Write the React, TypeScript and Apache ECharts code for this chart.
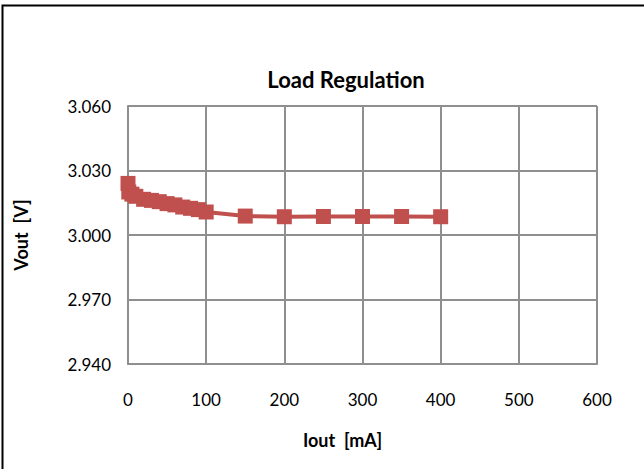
import React, { useEffect, useRef } from "react";
import * as echarts from "echarts";

const iout = [0, 1, 5, 10, 20, 30, 40, 50, 60, 70, 80, 90, 100, 150, 200, 250, 300, 350, 400];
const vout = [3.024, 3.02, 3.019, 3.018, 3.0166, 3.0161, 3.0155, 3.0146, 3.014, 3.013, 3.0124, 3.0118, 3.0107, 3.0088, 3.0085, 3.0086, 3.0086, 3.0086, 3.0085];
const yTicks = [2.94, 2.97, 3.0, 3.03, 3.06];
const xTicks = [0, 100, 200, 300, 400, 500, 600];

const FONT = "Lato, 'Open Sans', sans-serif";

export default function App() {
  const ref = useRef<HTMLDivElement>(null);
  useEffect(() => {
    document.body.style.margin = "0";
    if (!ref.current) return;
    const chart = echarts.init(ref.current, null, { renderer: "svg" });
    const gridColor = "#8f8f8f";
    chart.setOption({
      animation: false,
      backgroundColor: "#ffffff",
      title: {
        text: "Load Regulation",
        left: 341,
        top: 63,
        textAlign: "center",
        textStyle: { fontFamily: FONT, fontSize: 22, fontWeight: "bold", color: "#000" },
      },
      graphic: [
        {
          type: "polyline",
          shape: { points: [[2.5, 469], [2.5, 5.5], [644, 5.5]] },
          style: { stroke: "#000", lineWidth: 2, fill: "none" },
        },
      ],
      grid: { left: 128, right: 47, top: 106, bottom: 105 },
      xAxis: {
        type: "value",
        min: xTicks[0],
        max: xTicks[xTicks.length - 1],
        interval: 100,
        name: "Iout  [mA]",
        nameLocation: "middle",
        nameGap: 67,
        nameTextStyle: {
          fontFamily: FONT,
          fontSize: 18,
          fontWeight: "bold",
          color: "#000",
          padding: [0, 40, 0, 0],
        },
        axisLine: { show: true, lineStyle: { color: gridColor, width: 2 } },
        axisTick: { show: false },
        axisLabel: { fontFamily: FONT, fontSize: 17, color: "#000", margin: 27 },
        splitLine: { show: true, lineStyle: { color: gridColor, width: 2 } },
      },
      yAxis: {
        type: "value",
        min: yTicks[0],
        max: yTicks[yTicks.length - 1],
        interval: 0.03,
        name: "Vout  [V]",
        nameLocation: "middle",
        nameGap: 98,
        nameRotate: 90,
        nameTextStyle: { fontFamily: FONT, fontSize: 18, fontWeight: "bold", color: "#000" },
        axisLine: { show: true, lineStyle: { color: gridColor, width: 2 } },
        axisTick: { show: false },
        axisLabel: {
          fontFamily: FONT,
          fontSize: 17,
          color: "#000",
          margin: 17,
          formatter: (v: number) => v.toFixed(3),
        },
        splitLine: { show: true, lineStyle: { color: gridColor, width: 2 } },
      },
      series: [
        {
          type: "line",
          data: iout.map((x, i) => [x, vout[i]]),
          symbol: "rect",
          symbolSize: 15,
          itemStyle: { color: "#c0504d" },
          lineStyle: { color: "#c0504d", width: 4 },
        },
      ],
    });
    return () => chart.dispose();
  }, []);
  return <div ref={ref} style={{ width: 644, height: 469 }} />;
}
